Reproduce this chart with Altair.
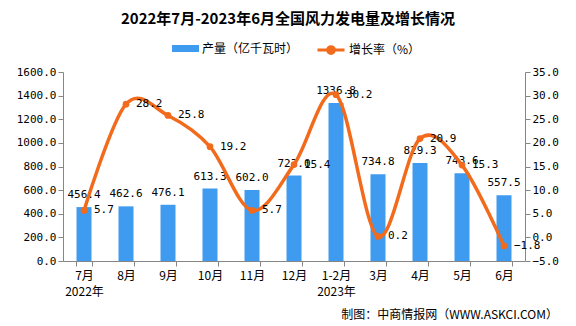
import altair as alt
import pandas as pd

months = ["7月", "8月", "9月", "10月", "11月", "12月", "1-2月", "3月", "4月", "5月", "6月"]
production = [456.4, 462.6, 476.1, 613.3, 602.0, 723.0, 1336.8, 734.8, 829.3, 743.6, 557.5]
growth = [5.7, 28.2, 25.8, 19.2, 5.7, 15.4, 30.2, 0.2, 20.9, 15.3, -1.8]
left_ticks = [0, 200, 400, 600, 800, 1000, 1200, 1400, 1600]
right_ticks = [-5, 0, 5, 10, 15, 20, 25, 30, 35]

BAR_NAME = "产量（亿千瓦时）"
LINE_NAME = "增长率（%）"
BLUE = "#3F9BEF"
ORANGE = "#F26B1D"
CJK = "Noto Sans CJK SC"
MONO = "DejaVu Sans Mono"

df = pd.DataFrame({"month": months, "production": production, "growth": growth,
                   "s1": BAR_NAME, "s2": LINE_NAME})

label_expr = ("datum.value == '7月' ? ['7月', '2022年'] : "
              "datum.value == '1-2月' ? ['1-2月', '2023年'] : datum.label")

x_axis = alt.Axis(labelAngle=0, labelExpr=label_expr, tickBand="extent",
                  labelFont=CJK, labelFontSize=12, labelColor="#000",
                  labelLineHeight=16, labelPadding=4, tickSize=5,
                  domainColor="#868686", tickColor="#868686")
x = alt.X("month:N", sort=months, title=None,
          scale=alt.Scale(paddingInner=0.64, paddingOuter=0.32), axis=x_axis)

left_axis = alt.Axis(values=left_ticks, tickCount=9, format=".1f", grid=False, labelOverlap=False,
                     labelFont=MONO, labelFontSize=11, labelColor="#000",
                     tickSize=5, domainColor="#868686", tickColor="#868686")
y_left = alt.Y("production:Q", title=None,
               scale=alt.Scale(domain=[0, 1600], nice=False), axis=left_axis)

right_axis = alt.Axis(values=right_ticks, tickCount=9, format=".1f", grid=False, orient="right",
                      labelOverlap=False,
                      labelFont=MONO, labelFontSize=11, labelColor="#000",
                      tickSize=5, domainColor="#868686", tickColor="#868686")
y_right = alt.Y("growth:Q", title=None,
                scale=alt.Scale(domain=[-5, 35], nice=False), axis=right_axis)

base = alt.Chart(df)

bars = base.mark_bar(size=15).encode(
    x=x,
    y=y_left,
    fill=alt.Fill("s1:N", title=None,
                  scale=alt.Scale(domain=[BAR_NAME], range=[BLUE]),
                  legend=alt.Legend(orient="none", legendX=109, legendY=-37,
                                    symbolType="M-1,-0.26H1V0.26H-1Z", symbolSize=729,
                                    symbolStrokeWidth=0, labelFont=CJK, labelFontSize=12,
                                    labelColor="#000", labelOffset=3)),
)

bar_text = base.mark_text(baseline="bottom", dy=-7, font=MONO, fontSize=11, color="#000").encode(
    x=x,
    y=y_left,
    text=alt.Text("production:Q", format=".1f"),
)

left = alt.layer(bars, bar_text)

line = base.mark_line(interpolate="cardinal", tension=0, strokeWidth=3.5).encode(
    x=x,
    y=y_right,
    stroke=alt.Stroke("s2:N", title=None,
                      scale=alt.Scale(domain=[LINE_NAME], range=[ORANGE]),
                      legend=alt.Legend(orient="none", legendX=253, legendY=-37,
                                        symbolType="M-1,0H1M0.25,0A0.25,0.25 0 1 1 -0.25,0A0.25,0.25 0 1 1 0.25,0",
                                        symbolSize=729, symbolStrokeWidth=3,
                                        symbolFillColor=ORANGE,
                                        labelFont=CJK, labelFontSize=12,
                                        labelColor="#000", labelOffset=3)),
)

pts = base.mark_circle(size=45, color=ORANGE, opacity=1).encode(
    x=x,
    y=y_right,
)

line_text = base.mark_text(align="left", baseline="middle", dx=10, font=MONO,
                           fontSize=11, color="#000").encode(
    x=x,
    y=y_right,
    text=alt.Text("growth:Q", format=".1f"),
)

right = alt.layer(line, pts, line_text)

footer = alt.Chart(pd.DataFrame({"t": ["制图：中商情报网（WWW.ASKCI.COM）"]})).mark_text(
    align="right", baseline="middle", font=CJK, fontSize=12, color="#000"
).encode(x=alt.value(495), y=alt.value(243), text="t:N")

chart = alt.layer(left, right, footer).resolve_scale(y="independent").properties(
    width=462, height=189,
    autosize=alt.AutoSizeParams(type="none"),
    padding={"left": 63, "top": 72, "right": 51, "bottom": 65},
    title=alt.Title("2022年7月-2023年6月全国风力发电量及增长情况", font=CJK, fontSize=15,
                    fontWeight="bold", color="#000", anchor="middle", offset=8, dx=-6),
    background="white",
).configure_view(stroke=None)

chart.save("out.html", embed_options={"renderer": "svg", "actions": False})
